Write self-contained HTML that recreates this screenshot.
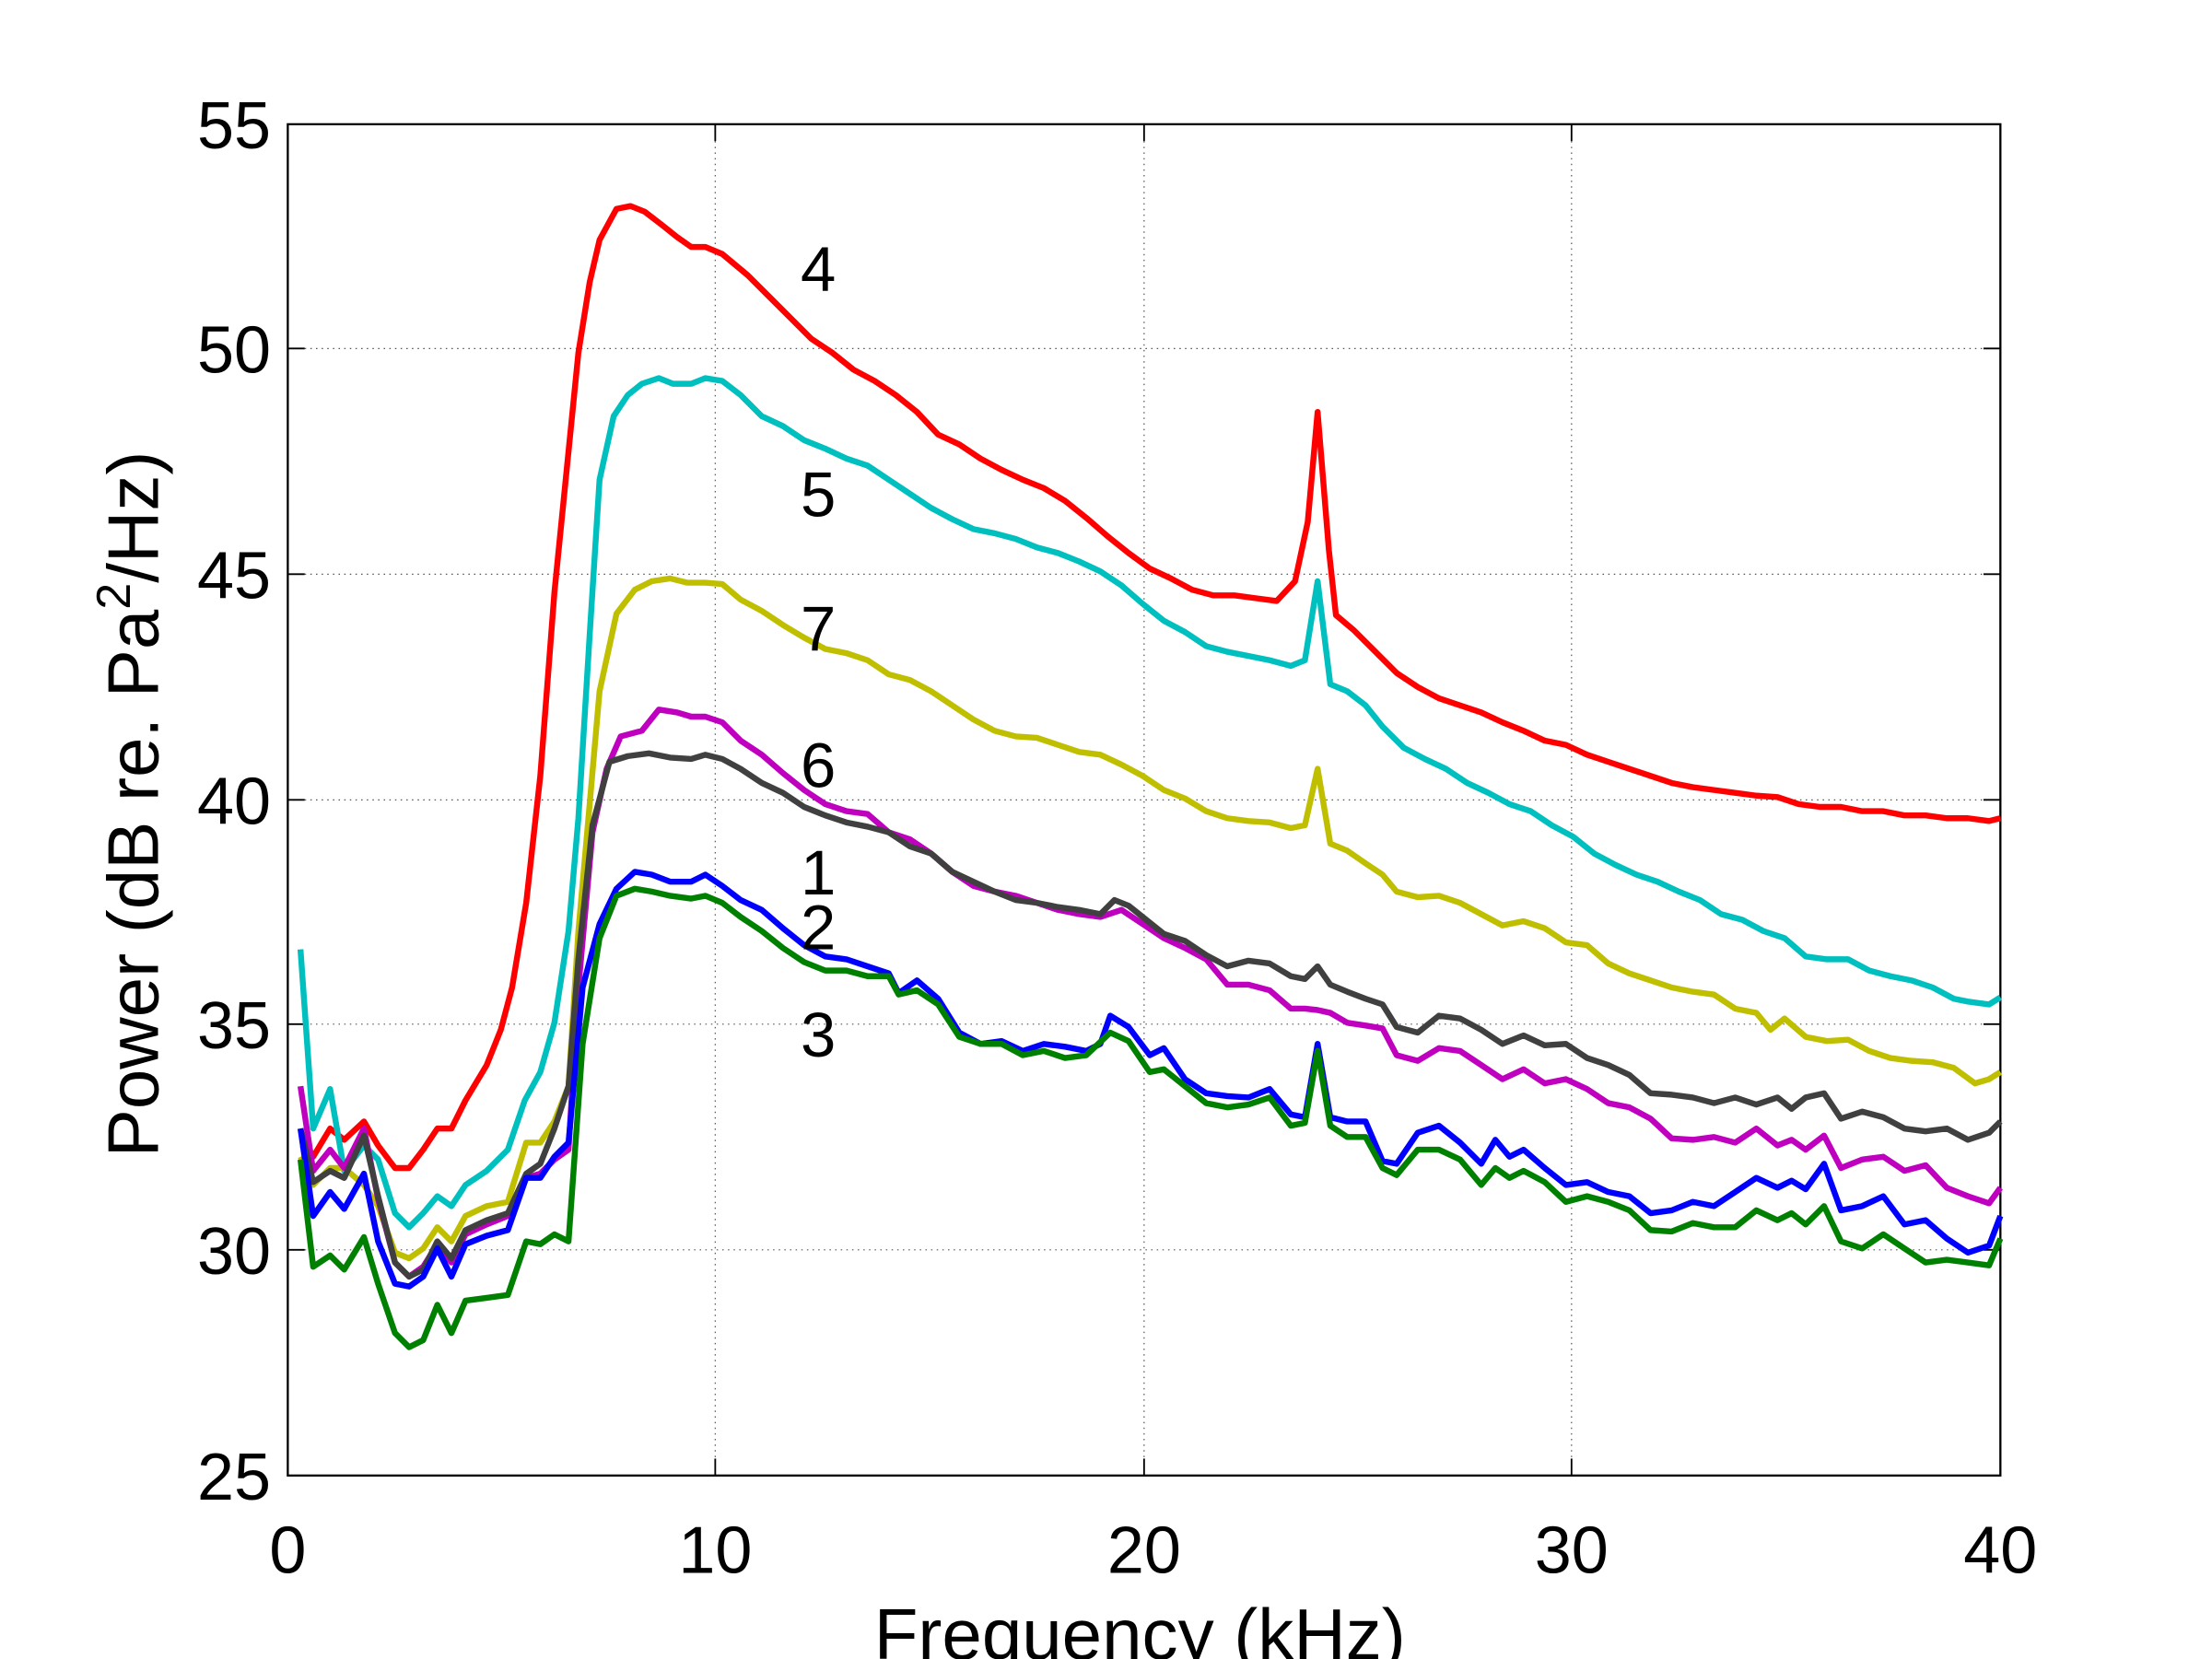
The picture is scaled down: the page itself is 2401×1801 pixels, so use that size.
<!DOCTYPE html>
<html><head><meta charset="utf-8"><style>html,body{margin:0;padding:0;background:#fff}svg{display:block}</style></head>
<body>
<svg width="2401" height="1801" viewBox="0 0 1568 1176" xmlns="http://www.w3.org/2000/svg" font-family="Liberation Sans, sans-serif">
<rect x="0" y="0" width="1568" height="1176" fill="#fff"/>
<g stroke="#555" stroke-width="0.8" stroke-dasharray="1,3">
<line x1="507" y1="88" x2="507" y2="1046"/><line x1="811" y1="88" x2="811" y2="1046"/><line x1="1114" y1="88" x2="1114" y2="1046"/>
<line x1="204" y1="247" x2="1418" y2="247"/><line x1="204" y1="407" x2="1418" y2="407"/><line x1="204" y1="567" x2="1418" y2="567"/><line x1="204" y1="726" x2="1418" y2="726"/><line x1="204" y1="886" x2="1418" y2="886"/>
</g>
<g stroke="#000" stroke-width="1.2">
<line x1="507" y1="88" x2="507" y2="100"/><line x1="811" y1="88" x2="811" y2="100"/><line x1="1114" y1="88" x2="1114" y2="100"/>
<line x1="507" y1="1046" x2="507" y2="1034"/><line x1="811" y1="1046" x2="811" y2="1034"/><line x1="1114" y1="1046" x2="1114" y2="1034"/>
<line x1="204" y1="247" x2="216" y2="247"/><line x1="204" y1="407" x2="216" y2="407"/><line x1="204" y1="567" x2="216" y2="567"/><line x1="204" y1="726" x2="216" y2="726"/><line x1="204" y1="886" x2="216" y2="886"/>
<line x1="1418" y1="247" x2="1406" y2="247"/><line x1="1418" y1="407" x2="1406" y2="407"/><line x1="1418" y1="567" x2="1406" y2="567"/><line x1="1418" y1="726" x2="1406" y2="726"/><line x1="1418" y1="886" x2="1406" y2="886"/>
</g>
<rect x="204" y="88" width="1214" height="958" fill="none" stroke="#000" stroke-width="1.5"/>
<g fill="none" stroke-width="4.2" stroke-linejoin="round">
<polyline stroke="#ff0000" points="214,812 222,820 234,800 244,808 258,795 268,812 280,828 290,828 300,815 310,800 320,800 330,780 345,755 355,730 363,700 373,640 383,550 393,420 403,320 410,250 418,200 425,170 437,148 447,146 457,150 470,160 480,168 490,175 500,175 512,180 530,195 545,210 560,225 575,240 590,250 605,262 620,270 635,280 650,292 665,308 680,315 695,325 710,333 725,340 740,346 755,355 770,367 785,380 800,392 815,403 830,410 845,418 860,422 875,422 890,424 905,426 918,412 927,370 934,292 942,390 947,436 960,447 975,462 990,477 1005,487 1020,495 1035,500 1050,505 1065,512 1080,518 1095,525 1110,528 1125,535 1140,540 1155,545 1170,550 1185,555 1200,558 1215,560 1230,562 1245,564 1260,565 1275,570 1290,572 1305,572 1320,575 1335,575 1350,578 1365,578 1380,580 1395,580 1410,582 1418,580"/>
<polyline stroke="#00bfbf" points="213,673 222,800 234,772 244,830 258,812 268,822 280,860 290,870 300,860 310,848 320,855 330,840 345,830 360,815 372,780 383,760 393,725 403,660 410,580 418,450 425,340 435,295 445,280 455,272 467,268 477,272 490,272 500,268 512,270 525,280 540,295 555,302 570,312 585,318 600,325 615,330 630,340 645,350 660,360 675,368 690,375 705,378 720,382 735,388 750,392 765,398 780,405 795,415 810,428 825,440 840,448 855,458 870,462 885,465 900,468 915,472 925,468 934,412 943,485 955,490 968,500 980,515 995,530 1010,538 1025,545 1040,555 1055,562 1070,570 1085,575 1100,585 1115,593 1130,605 1145,613 1160,620 1175,625 1190,632 1205,638 1220,648 1235,652 1250,660 1265,665 1280,678 1295,680 1310,680 1325,688 1340,692 1355,695 1370,700 1385,708 1395,710 1410,712 1418,707"/>
<polyline stroke="#bfbf00" points="213,820 222,840 234,828 244,828 258,840 268,855 280,888 290,892 300,885 310,870 320,880 330,862 345,855 360,852 373,810 383,810 393,795 403,770 410,660 418,570 425,490 437,435 450,418 462,412 475,410 487,413 500,413 512,414 525,425 540,433 555,443 570,452 585,460 600,463 615,468 630,478 645,482 660,490 675,500 690,510 705,518 720,522 735,523 750,528 765,533 780,535 795,542 810,550 825,560 840,566 855,575 870,580 885,582 900,583 915,587 925,585 934,545 943,598 955,603 968,612 980,620 990,632 1005,636 1020,635 1035,640 1050,648 1065,656 1080,653 1095,658 1110,668 1125,670 1140,683 1155,690 1170,695 1185,700 1200,703 1215,705 1230,715 1245,718 1255,730 1265,722 1280,735 1295,738 1310,737 1325,745 1340,750 1355,752 1370,753 1385,757 1400,768 1410,765 1418,760"/>
<polyline stroke="#bf00bf" points="213,770 222,830 234,815 244,828 258,800 268,850 280,895 290,905 300,898 310,882 320,895 330,875 345,868 360,862 373,835 383,832 393,822 403,815 410,700 420,590 430,545 440,522 455,518 467,503 480,505 490,508 500,508 512,512 525,525 540,535 555,548 570,560 585,570 600,575 615,577 630,590 645,595 660,605 675,618 690,628 705,632 720,635 735,640 750,645 765,648 780,650 795,645 810,655 825,665 840,672 855,680 870,698 885,698 900,702 915,715 925,715 934,716 943,718 955,725 968,727 980,729 990,748 1005,752 1020,743 1035,745 1050,755 1065,765 1080,758 1095,768 1110,765 1125,772 1140,782 1155,785 1170,793 1185,807 1200,808 1215,806 1230,810 1245,800 1260,812 1270,808 1280,815 1293,805 1305,828 1320,822 1335,820 1350,830 1365,826 1380,842 1395,848 1410,853 1418,842"/>
<polyline stroke="#404040" points="213,800 222,838 234,830 244,835 258,805 268,848 280,895 290,905 300,900 310,880 320,892 330,872 345,865 360,860 373,832 383,825 393,800 403,770 410,680 420,585 432,540 445,536 460,534 475,537 490,538 500,535 512,538 525,545 540,555 555,562 570,572 585,578 600,583 615,586 630,590 645,600 660,605 675,618 690,625 705,632 720,638 735,640 750,643 765,645 780,648 790,638 800,642 810,650 825,662 840,667 855,677 870,685 885,681 900,683 915,692 925,694 934,685 943,698 955,703 968,708 980,712 990,728 1005,732 1020,720 1035,722 1050,730 1065,740 1080,734 1095,741 1110,740 1125,750 1140,755 1155,762 1170,775 1185,776 1200,778 1215,782 1230,778 1245,783 1260,778 1270,786 1280,778 1293,775 1305,793 1320,788 1335,792 1350,800 1365,802 1380,800 1395,808 1410,803 1418,795"/>
<polyline stroke="#0000ff" points="213,800 222,862 234,845 244,857 258,832 268,880 280,910 290,912 300,905 310,885 320,905 330,882 345,876 360,872 373,835 383,835 393,820 403,810 413,700 425,655 437,630 450,618 462,620 475,625 490,625 500,620 512,628 525,638 540,645 555,658 570,670 585,678 600,680 615,685 630,690 637,704 650,695 665,708 680,732 695,740 710,738 725,745 740,740 755,742 770,745 780,740 787,720 800,728 815,748 825,743 840,765 855,775 870,777 885,778 900,772 915,790 925,792 934,740 943,792 955,795 968,795 980,823 990,825 1005,803 1020,798 1035,810 1050,825 1060,808 1070,820 1080,815 1095,828 1110,840 1125,838 1140,845 1155,848 1170,860 1185,858 1200,852 1215,855 1230,845 1245,835 1260,842 1270,837 1280,843 1293,825 1305,858 1320,855 1335,848 1350,868 1365,865 1380,878 1395,888 1410,883 1418,862"/>
<polyline stroke="#008000" points="213,822 222,898 234,890 244,900 258,877 268,910 280,945 290,955 300,950 310,925 320,945 330,922 345,920 360,918 373,880 383,882 393,875 403,880 413,740 425,665 437,635 450,630 462,632 475,635 490,637 500,635 512,640 525,650 540,660 555,672 570,682 585,688 600,688 615,692 630,692 637,705 650,702 665,712 680,735 695,740 710,740 725,748 740,745 755,750 770,748 787,732 800,738 815,760 825,758 840,770 855,782 870,785 885,783 900,778 915,798 925,796 934,745 943,798 955,806 968,806 980,828 990,833 1005,815 1020,815 1035,822 1050,840 1060,828 1070,835 1080,830 1095,838 1110,852 1125,848 1140,852 1155,858 1170,872 1185,873 1200,867 1215,870 1230,870 1245,858 1260,865 1270,860 1280,868 1293,855 1305,880 1320,885 1335,875 1350,885 1365,895 1380,893 1395,895 1410,897 1418,878"/>
</g>
<g font-size="45" fill="#000" text-anchor="middle">
<text x="580" y="206">4</text><text x="580" y="366">5</text><text x="580" y="461">7</text><text x="580" y="558">6</text><text x="580" y="634">1</text><text x="580" y="673">2</text><text x="580" y="749">3</text>
</g>
<g font-size="47" fill="#000" text-anchor="end">
<text x="192" y="105">55</text><text x="192" y="264">50</text><text x="192" y="424">45</text><text x="192" y="584">40</text><text x="192" y="743">35</text><text x="192" y="903">30</text><text x="192" y="1063">25</text>
</g>
<g font-size="47" fill="#000" text-anchor="middle">
<text x="204" y="1115">0</text><text x="507" y="1115">10</text><text x="811" y="1115">20</text><text x="1114" y="1115">30</text><text x="1418" y="1115">40</text>
<text x="808" y="1176" font-size="51">Frequency (kHz)</text>
<text transform="translate(112,570) rotate(-90)" font-size="51">Power (dB re. Pa<tspan font-size="34" dy="-20">2</tspan><tspan dy="20">/Hz)</tspan></text>
</g>
</svg>
</body></html>
